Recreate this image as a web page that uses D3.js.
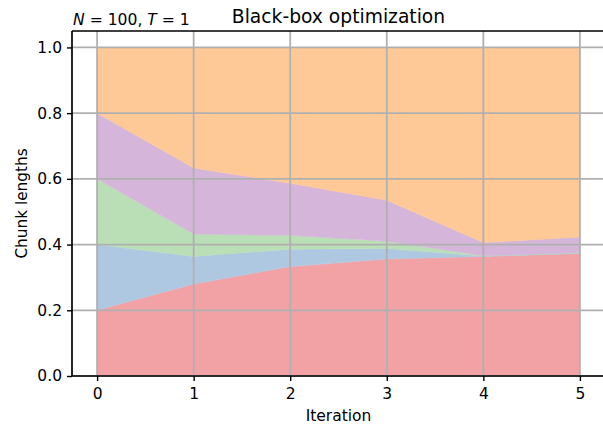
<!DOCTYPE html>
<html>
<head>
<meta charset="utf-8">
<script src="https://cdn.jsdelivr.net/npm/d3@7"></script>
<style>
  html, body { margin: 0; padding: 0; background: #fff; }
  svg { display: block; font-family: "DejaVu Sans", sans-serif; }
</style>
</head>
<body>
<svg id="chart" width="603" height="426"></svg>
<script>
// Iterations along the x axis
const iterations = [0, 1, 2, 3, 4, 5];
// Length of each chunk per iteration (stacked bottom to top)
const chunk1 = [0.20, 0.280, 0.333, 0.356, 0.364, 0.373];
const chunk2 = [0.20, 0.084, 0.053, 0.032, 0.001, 0.001];
const chunk3 = [0.20, 0.068, 0.042, 0.022, 0.001, 0.001];
const chunk4 = [0.20, 0.201, 0.159, 0.125, 0.040, 0.048];
const chunk5 = [0.20, 0.367, 0.413, 0.465, 0.594, 0.577];
const seriesNames = ["chunk1", "chunk2", "chunk3", "chunk4", "chunk5"];
const seriesColors = ["#f2a2a5", "#afc8e1", "#badfb7", "#d5b6da", "#fec996"];
const xTicks = [0, 1, 2, 3, 4, 5];
const yTicks = [0.0, 0.2, 0.4, 0.6, 0.8, 1.0];

const rows = iterations.map((it, i) => ({
  it,
  chunk1: chunk1[i], chunk2: chunk2[i], chunk3: chunk3[i],
  chunk4: chunk4[i], chunk5: chunk5[i]
}));

const svg = d3.select("#chart");
const margin = { left: 72, top: 31, right: 605, bottom: 376 };
const tickFont = 15.5;

const x = d3.scaleLinear().domain([-0.26, 5.26]).range([margin.left, margin.right]);
const y = d3.scaleLinear().domain([0, 1.05]).range([margin.bottom, margin.top]);

const layers = d3.stack().keys(seriesNames)(rows);

const area = d3.area()
  .x(d => x(d.data.it))
  .y0(d => y(d[0]))
  .y1(d => y(d[1]));

svg.append("g").selectAll("path")
  .data(layers)
  .join("path")
  .attr("d", area)
  .attr("fill", (d, i) => seriesColors[i])
  .attr("stroke", (d, i) => seriesColors[i])
  .attr("stroke-width", 0.5);

// Grid lines on top of the areas
const grid = svg.append("g").attr("stroke", "#b0b0b0").attr("stroke-width", 1.8);
grid.selectAll("line.gx").data(xTicks).join("line")
  .attr("x1", d => x(d)).attr("x2", d => x(d))
  .attr("y1", margin.top).attr("y2", margin.bottom);
grid.selectAll("line.gy").data(yTicks).join("line")
  .attr("x1", margin.left).attr("x2", margin.right)
  .attr("y1", d => y(d)).attr("y2", d => y(d));

// Axes
const xAxis = d3.axisBottom(x).tickValues(xTicks).tickFormat(d3.format("d")).tickSize(5).tickPadding(7);
const yAxis = d3.axisLeft(y).tickValues(yTicks).tickFormat(d3.format(".1f")).tickSize(5).tickPadding(5);

const gx = svg.append("g").attr("transform", `translate(0,${margin.bottom})`).call(xAxis);
const gy = svg.append("g").attr("transform", `translate(${margin.left},0)`).call(yAxis);
[gx, gy].forEach(g => {
  g.select(".domain").remove();
  g.selectAll(".tick line").attr("stroke", "#000").attr("stroke-width", 1.4);
  g.selectAll(".tick text").attr("fill", "#000").attr("font-size", tickFont)
    .attr("font-family", "DejaVu Sans, sans-serif");
});

// Spines: left, bottom, top
const spines = svg.append("g").attr("stroke", "#000").attr("stroke-width", 1.7);
spines.append("line").attr("x1", margin.left).attr("x2", margin.left).attr("y1", margin.top).attr("y2", margin.bottom);
spines.append("line").attr("x1", margin.left).attr("x2", margin.right).attr("y1", margin.bottom).attr("y2", margin.bottom);
spines.append("line").attr("x1", margin.left).attr("x2", margin.right).attr("y1", margin.top).attr("y2", margin.top);

// Titles and labels
svg.append("text")
  .attr("x", (margin.left + margin.right) / 2).attr("y", 23)
  .attr("text-anchor", "middle").attr("font-size", 18.7).attr("fill", "#000")
  .text("Black-box optimization");

const sub = svg.append("text")
  .attr("x", 73).attr("y", 25).attr("font-size", 15.6).attr("fill", "#000");
sub.append("tspan").attr("font-style", "italic").text("N");
sub.append("tspan").text(" = 100, ");
sub.append("tspan").attr("font-style", "italic").text("T");
sub.append("tspan").text(" = 1");

svg.append("text")
  .attr("x", (margin.left + margin.right) / 2).attr("y", 421)
  .attr("text-anchor", "middle").attr("font-size", 15.5).attr("fill", "#000")
  .text("Iteration");

svg.append("text")
  .attr("transform", `translate(27,${(margin.top + margin.bottom) / 2}) rotate(-90)`)
  .attr("text-anchor", "middle").attr("font-size", 15.3).attr("fill", "#000")
  .text("Chunk lengths");
</script>
</body>
</html>
